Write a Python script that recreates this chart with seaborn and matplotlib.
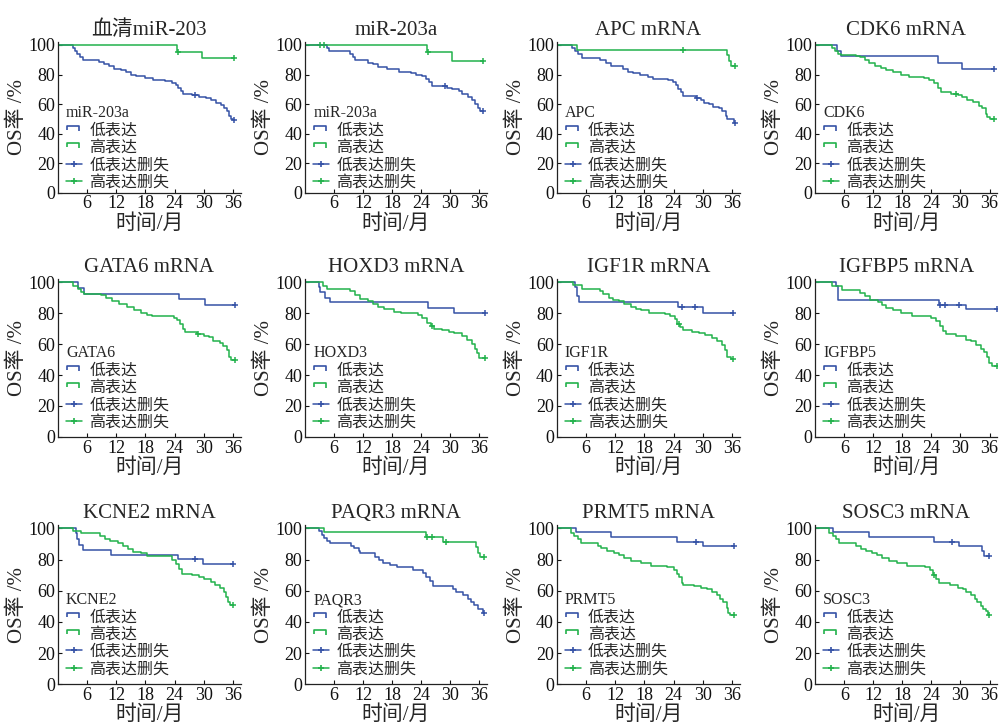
import numpy as np
import seaborn as sns
import matplotlib
matplotlib.use("Agg")
import matplotlib.pyplot as plt
from matplotlib.lines import Line2D
from matplotlib.path import Path

# ---- data (time in months, survival in %) ----
# each curve: drop times, survival after each drop, censor times
serum_low_t = [3.0, 3.5, 4.0, 4.6, 5.2, 8.5, 9.5, 10.5, 11.5, 13, 14, 15, 16, 18, 19.5, 22, 23.5, 24.2,
               24.8, 25.3, 25.8, 27.5, 29, 30.5, 31.5, 32.5, 33.5, 34.2, 34.7, 35.2, 35.6, 36.0]
serum_low_s = [98, 96, 94, 92, 90, 88.5, 87, 85.5, 84, 83, 81.5, 80, 79, 77.5, 76.5, 75.5, 74.5, 73,
               71, 69, 67, 66, 65, 64, 62.5, 61, 59.5, 57.5, 55, 52, 50, 49]
serum_low_c = [28.2, 36.3]
serum_high_t = [24.4, 29.6]
serum_high_s = [95.5, 91.5]
serum_high_c = [24.6, 36.3]

mir_low_t = [4.4, 5.0, 9.2, 9.9, 10.4, 13, 14, 15, 17, 19.5, 22, 23, 24.2, 25, 25.6, 26.2, 28.4, 29.4,
             30.5, 31.8, 32.5, 33.8, 34.5, 35.2, 35.8, 36.3]
mir_low_s = [98, 96, 94, 92, 90, 88, 87, 85, 84, 82, 81, 80, 79, 77, 75, 72.5, 72, 71, 70, 69, 67, 65,
             63, 60, 57, 55.5]
mir_low_c = [29.0, 36.9]
mir_high_t = [25.3, 30.5]
mir_high_s = [95, 89]
mir_high_c = [3.0, 3.8, 25.5, 36.9]

apc_low_t = [3.1, 3.7, 4.4, 5.1, 8.8, 10.2, 11.2, 13.6, 14.6, 15.6, 17, 18.7, 19.7, 22.8, 23.8, 24.5,
             24.8, 25.5, 26, 28.6, 29.6, 30.3, 31.3, 32, 33.3, 34, 34.7, 35, 36.4]
apc_low_s = [98, 96, 94, 91.5, 90, 88, 86, 84, 82, 81, 79.5, 78, 77, 76, 75, 73, 70, 68, 65.5, 64, 63,
             61, 60, 58, 57, 55, 52, 50, 47]
apc_low_c = [28.8, 36.6]
apc_high_t = [4.1, 35, 35.4, 35.7]
apc_high_s = [96.5, 93, 89, 85.5]
apc_high_c = [25.9, 36.6]

cdk6_low_t = [4.4, 5.4, 25.3, 30.4]
cdk6_low_s = [96, 92.5, 88, 84]
cdk6_low_c = [36.9]
cdk6_high_t = [3.4, 4.0, 4.7, 5.4, 8.5, 9.2, 10.2, 11.2, 12.3, 13.6, 14.7, 16, 17.7, 19.4, 22.5, 23.6,
               24.6, 25.3, 26, 28, 29.4, 30.4, 31.4, 32.5, 33.8, 34.5, 35.2, 35.5, 36.2]
cdk6_high_s = [98, 96, 94, 93, 92.5, 92, 90, 88, 86, 84.5, 83, 81.5, 80, 78.5, 77.5, 76, 74, 71, 68, 67,
               66, 65, 63, 61.5, 59, 57, 53, 51, 50]
cdk6_high_c = [29.0, 36.9]

gata6_low_t = [4.1, 5.4, 25, 30.3]
gata6_low_s = [96.5, 92.5, 89, 85.5]
gata6_low_c = [36.5]
gata6_high_t = [3.1, 4.1, 4.8, 5.4, 8.8, 9.9, 11.2, 12.6, 14.3, 15.6, 17, 18.4, 19.4, 23.8, 24.5, 25.2,
                25.7, 26.2, 28.6, 30, 31, 32, 33.3, 34, 34.7, 35.2, 35.7]
gata6_high_s = [98, 96, 94, 92.5, 92, 90, 88, 86, 84, 82, 80.5, 79, 78, 77, 75.5, 73, 70, 68, 66.5, 65.5,
                64.5, 62, 61, 58.5, 56, 52, 49.5]
gata6_high_c = [28.9, 36.5]

hoxd3_low_t = [2.9, 3.1, 4.1, 5.1, 25.5, 30.8]
hoxd3_low_s = [97, 93.5, 90, 87, 83.5, 80]
hoxd3_low_c = [37.3]
hoxd3_high_t = [3.6, 4.6, 9.2, 10.3, 11.3, 13, 14, 15, 16.4, 18.5, 19.9, 23.3, 24.3, 25.3, 26, 26.7,
                28.4, 29.8, 30.8, 32.5, 33.6, 34.6, 35.3, 35.6, 36.1]
hoxd3_high_s = [98, 96, 94.5, 92, 89.5, 88, 86, 84, 82.5, 81, 80.5, 79, 77, 74, 71.5, 70, 69, 68, 67, 65,
                63, 60, 57, 54, 51]
hoxd3_high_c = [26.3, 37.3]

igf1r_low_t = [3.7, 4.1, 4.6, 24.8, 29.9]
igf1r_low_s = [97, 91, 87.5, 84, 80.5]
igf1r_low_c = [25.7, 28.4, 36.1]
igf1r_high_t = [3.4, 5.1, 8.8, 9.5, 10.8, 11.5, 12.8, 13.9, 15.2, 16.2, 17.2, 18.9, 22.3, 23.3, 24.3,
                24.7, 25.3, 26, 27.7, 29.1, 30.4, 31.8, 32.8, 33.8, 34.5, 35, 35.8]
igf1r_high_s = [98.5, 96, 94.5, 92.5, 90, 88.5, 88, 86, 84, 83, 82, 80.5, 79.5, 78, 76, 73, 71, 69.5, 68,
                67, 66, 64, 62, 59.5, 56, 52, 50.5]
igf1r_high_c = [25.0, 36.1]

igfbp5_low_t = [4.3, 4.6, 4.8, 25.5, 31.2]
igfbp5_low_s = [97.5, 93, 88.5, 85.5, 82.5]
igfbp5_low_c = [25.7, 26.7, 29.6, 37.5]
igfbp5_high_t = [3.4, 5.5, 9.2, 10.3, 11.3, 13, 13.7, 14.7, 16, 17.8, 19.9, 24, 25, 25.7, 26.4, 27.1,
                 29.1, 31.2, 32.2, 33.2, 34.2, 34.9, 35.4, 35.8, 36.5]
igfbp5_high_s = [98, 95, 93, 91, 88.5, 87, 85.5, 83.5, 82, 80, 78, 77, 75, 72, 68.5, 66.5, 65, 63, 62,
                 59.5, 57, 55, 52, 48, 46]
igfbp5_high_c = [37.5]

kcne2_low_t = [3.7, 3.9, 4.4, 5.2, 11, 24.6, 29.8]
kcne2_low_s = [97, 93, 89.5, 86, 83, 80.5, 77]
kcne2_low_c = [28.3, 36.1]
kcne2_high_t = [3, 4.8, 8.6, 9.6, 10.6, 12.3, 13.3, 14.4, 15.4, 17.1, 18.4, 21.5, 23.5, 24.2, 24.9,
                25.6, 27.6, 29, 30, 31.4, 32.4, 33.4, 34.1, 34.6, 35, 35.5]
kcne2_high_s = [98.5, 97, 95, 93.5, 92, 90.5, 88.5, 86.5, 85, 84, 82.5, 82, 80, 77, 74, 71, 70, 69, 67.5,
                65.5, 64, 62, 59, 56, 52.5, 51]
kcne2_high_c = [36.1]

paqr3_low_t = [2.9, 3.4, 3.9, 4.6, 5.1, 9.4, 10.1, 11.1, 11.4, 14.5, 15.2, 16.2, 17.6, 19, 22.4, 24.5,
               25.1, 25.8, 26.5, 30.6, 31.3, 32.7, 33.7, 34.4, 35.1, 35.8, 36.8]
paqr3_low_s = [98, 96, 94, 92, 90.5, 89, 87.5, 85.5, 84, 81.5, 79.5, 78, 76.5, 75, 73.5, 71.5, 69, 66,
               63, 61, 59.5, 57, 55, 53, 51, 48.5, 45.5]
paqr3_low_c = [37.1]
paqr3_high_t = [3.9, 25.1, 28.6, 35.4, 35.9, 36.2]
paqr3_high_s = [97.5, 94.5, 91, 88, 84.5, 81.5]
paqr3_high_c = [25.3, 26.3, 29.1, 37.1]

prmt5_low_t = [3.9, 11.1, 24.7, 30.1]
prmt5_low_s = [97.5, 94.5, 91.5, 88.5]
prmt5_low_c = [28.6, 36.4]
prmt5_high_t = [2.9, 3.6, 4.3, 5.0, 8.4, 9.0, 10.4, 11.8, 12.8, 13.8, 15.2, 17.2, 19.3, 22.7, 24, 24.7,
                25, 25.6, 26, 28.1, 29.5, 30.8, 31.8, 32.9, 33.5, 34.2, 34.9, 35.2, 35.6]
prmt5_high_s = [97, 95, 93, 90.5, 89, 87.5, 85.5, 84.5, 83, 81, 79, 77.5, 76, 75, 73, 71, 68.5, 65, 64,
                63, 62, 61, 59, 57.5, 55, 52.5, 49, 46, 44.5]
prmt5_high_c = [36.4]

sosc3_low_t = [3.7, 11, 24.6, 29.7, 34.4, 34.8]
sosc3_low_s = [97.5, 94.5, 91.5, 88.5, 85.5, 82.5]
sosc3_low_c = [28.2, 35.9]
sosc3_high_t = [2.9, 3.7, 4.3, 5.0, 8.4, 9.4, 10.4, 11.8, 12.8, 13.8, 15.2, 16.9, 18.9, 22.7, 23.7, 24.4,
                25, 25.6, 27.8, 29.5, 30.5, 31.2, 32.2, 32.9, 33.5, 34.2, 34.6, 35.2, 35.7]
sosc3_high_s = [97, 95, 93, 90.5, 89, 87, 85.5, 84.5, 83, 81, 79, 77.5, 76, 75, 73, 70, 67.5, 65, 63.5,
                62, 61, 59, 57.5, 55, 53, 50.5, 48, 47, 44.5]
sosc3_high_c = [24.6, 35.9]

titles = ['血清miR-203', 'miR-203a', 'APC mRNA', 'CDK6 mRNA',
          'GATA6 mRNA', 'HOXD3 mRNA', 'IGF1R mRNA', 'IGFBP5 mRNA',
          'KCNE2 mRNA', 'PAQR3 mRNA', 'PRMT5 mRNA', 'SOSC3 mRNA']
legend_titles = ['miR-203a', 'miR-203a', 'APC', 'CDK6', 'GATA6', 'HOXD3',
                 'IGF1R', 'IGFBP5', 'KCNE2', 'PAQR3', 'PRMT5', 'SOSC3']
series_labels = ['低表达', '高表达', '低表达删失', '高表达删失']
x_ticks = [6, 12, 18, 24, 30, 36]
y_ticks = [0, 20, 40, 60, 80, 100]

curves = [
    (serum_low_t, serum_low_s, serum_low_c, serum_high_t, serum_high_s, serum_high_c),
    (mir_low_t, mir_low_s, mir_low_c, mir_high_t, mir_high_s, mir_high_c),
    (apc_low_t, apc_low_s, apc_low_c, apc_high_t, apc_high_s, apc_high_c),
    (cdk6_low_t, cdk6_low_s, cdk6_low_c, cdk6_high_t, cdk6_high_s, cdk6_high_c),
    (gata6_low_t, gata6_low_s, gata6_low_c, gata6_high_t, gata6_high_s, gata6_high_c),
    (hoxd3_low_t, hoxd3_low_s, hoxd3_low_c, hoxd3_high_t, hoxd3_high_s, hoxd3_high_c),
    (igf1r_low_t, igf1r_low_s, igf1r_low_c, igf1r_high_t, igf1r_high_s, igf1r_high_c),
    (igfbp5_low_t, igfbp5_low_s, igfbp5_low_c, igfbp5_high_t, igfbp5_high_s, igfbp5_high_c),
    (kcne2_low_t, kcne2_low_s, kcne2_low_c, kcne2_high_t, kcne2_high_s, kcne2_high_c),
    (paqr3_low_t, paqr3_low_s, paqr3_low_c, paqr3_high_t, paqr3_high_s, paqr3_high_c),
    (prmt5_low_t, prmt5_low_s, prmt5_low_c, prmt5_high_t, prmt5_high_s, prmt5_high_c),
    (sosc3_low_t, sosc3_low_s, sosc3_low_c, sosc3_high_t, sosc3_high_s, sosc3_high_c),
]

BLUE = '#3552a6'
GREEN = '#22b24c'

sns.set_style('ticks')
plt.rcParams['font.family'] = ['Liberation Serif', 'Noto Sans CJK SC']
plt.rcParams['axes.unicode_minus'] = False


def surv_at(times, surv, t):
    i = np.searchsorted(times, t, side='right')
    return 100.0 if i == 0 else surv[i - 1]


def draw_curve(ax, times, surv, cens, color):
    end = max(cens[-1], times[-1])
    xs = [0] + list(times) + [end]
    ys = [100] + list(surv) + [surv[-1]]
    sns.lineplot(x=xs, y=ys, drawstyle='steps-post', estimator=None, sort=False,
                 color=color, linewidth=1.1, ax=ax)
    cy = [surv_at(times, surv, c) for c in cens]
    sns.scatterplot(x=cens, y=cy, marker='+', s=18, color=color, linewidth=1.1, ax=ax)


# legend symbols
step_marker = Path([(-1.0, -0.1), (-1.0, 0.45), (0.7, 0.45), (0.7, -0.35)])
handles = [
    Line2D([0], [0], color=BLUE, marker=step_marker, linestyle='none', markersize=10,
           mfc='none', mew=1.2),
    Line2D([0], [0], color=GREEN, marker=step_marker, linestyle='none', markersize=10,
           mfc='none', mew=1.2),
    Line2D([0], [0], color=BLUE, marker='+', linestyle='-', lw=1.1, markersize=5, mew=1.2),
    Line2D([0], [0], color=GREEN, marker='+', linestyle='-', lw=1.1, markersize=5, mew=1.2),
]

fig = plt.figure(figsize=(10.04, 7.28), dpi=100)

col_left = [0.0578, 0.3041, 0.5545, 0.8120]
col_width = [0.1819, 0.1805, 0.1826, 0.1813]
row_bottom = [0.7353, 0.4000, 0.0600]
row_height = [0.2070, 0.2163, 0.2185]

for k in range(12):
    r, c = divmod(k, 4)
    ax = fig.add_axes([col_left[c], row_bottom[r], col_width[c], row_height[r]])
    lt, ls, lc, ht, hs, hc = curves[k]
    draw_curve(ax, lt, ls, lc, BLUE)
    draw_curve(ax, ht, hs, hc, GREEN)

    ax.set_xlim(0, 37.6)
    ax.set_ylim(0, 102)
    ax.set_xticks(x_ticks)
    ax.set_yticks(y_ticks)
    ax.tick_params(direction='in', length=3, width=0.8, labelsize=13, pad=2, colors='#111111')
    for side in ['top', 'right']:
        ax.spines[side].set_visible(False)
    for side in ['left', 'bottom']:
        ax.spines[side].set_linewidth(0.9)
        ax.spines[side].set_color('#222222')
    ax.set_title(titles[k], fontsize=15, pad=5)
    ax.set_xlabel('时间/月', fontsize=15, labelpad=1)
    ax.set_ylabel('OS率 /%', fontsize=15, labelpad=1)
    ax.legend(handles, series_labels, title=legend_titles[k], loc='upper left',
              bbox_to_anchor=(0.035, 0.59), frameon=False, fontsize=11.5,
              title_fontsize=11.5, alignment='left', handlelength=1.0,
              handletextpad=0.45, labelspacing=0.08, borderpad=0.1, borderaxespad=0.0)

fig.savefig('out.png', dpi=100)
